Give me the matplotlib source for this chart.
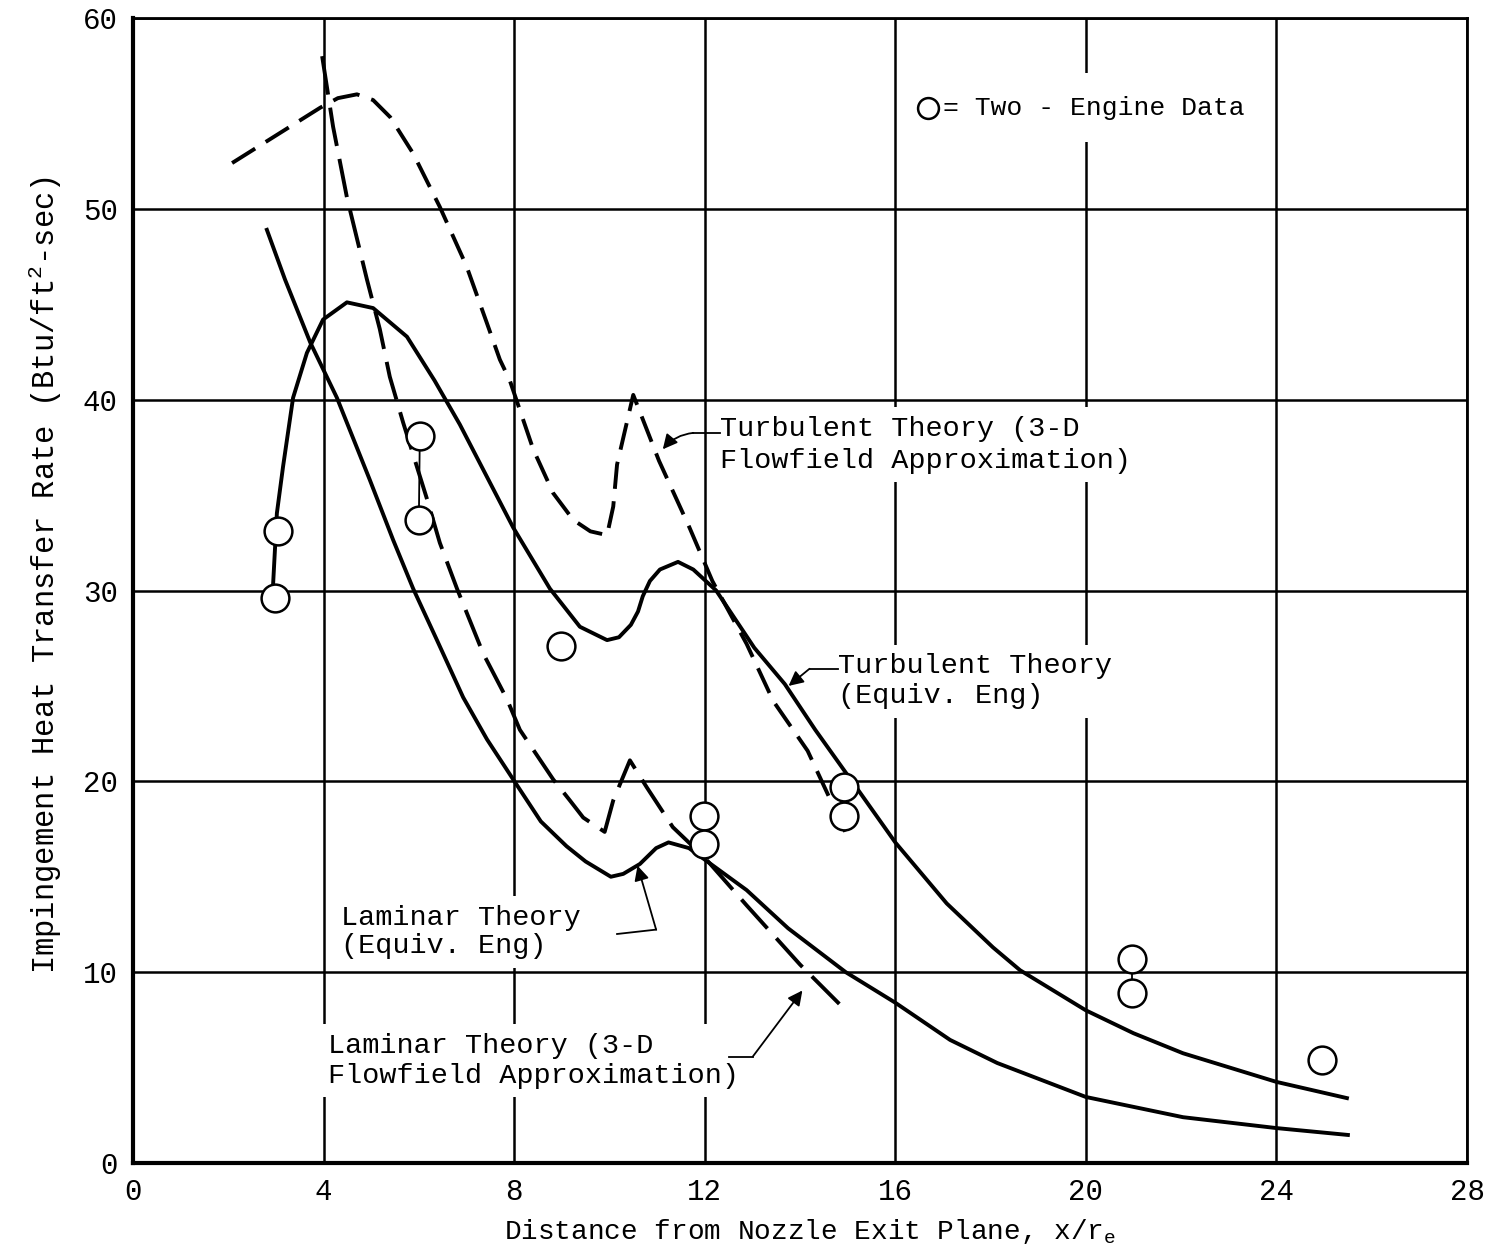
import matplotlib.pyplot as plt

plt.rcParams['font.family'] = ['Liberation Mono', 'DejaVu Sans Mono']
plt.rcParams['mathtext.fontset'] = 'custom'
plt.rcParams['mathtext.rm'] = 'Liberation Mono'
plt.rcParams['mathtext.it'] = 'Liberation Mono'

# Turbulent theory, 3-D flowfield approximation (dashed)
turb_3d_x = [2.08, 3.93, 4.3, 4.7, 5.04, 5.4, 5.88, 6.44, 7.0, 7.43, 7.7, 7.91, 8.4, 8.82,
             9.24, 9.6, 9.95, 10.08, 10.16, 10.5, 11.04, 11.68, 12.16, 12.88, 13.44, 14.16, 14.96]
turb_3d_y = [52.4, 55.3, 55.8, 56.0, 55.7, 54.8, 52.9, 50.1, 47.0, 44.0, 42.1, 41.0, 37.4, 35.1,
             33.7, 33.1, 32.9, 34.4, 36.6, 40.25, 36.8, 33.3, 30.5, 27.2, 24.2, 21.6, 17.3]

# Laminar theory, 3-D flowfield approximation (dashed)
lam_3d_x = [3.97, 4.2, 4.49, 4.91, 5.18, 5.39, 5.67, 6.17, 6.44, 6.8, 7.35, 7.85, 8.12, 8.82,
            9.17, 9.45, 9.9, 10.08, 10.43, 10.78, 11.33, 12.0, 12.88, 14.0, 14.96]
lam_3d_y = [58.0, 54.3, 50.6, 46.3, 43.7, 41.2, 38.8, 34.8, 32.5, 30.1, 26.7, 24.3, 22.7, 20.1,
            19.0, 18.1, 17.35, 19.0, 21.1, 19.7, 17.6, 16.0, 13.5, 10.4, 8.0]

# Turbulent theory, equivalent engine (solid)
turb_eq_x = [2.94, 3.02, 3.15, 3.36, 3.65, 3.99, 4.49, 5.04, 5.75, 6.33, 6.86, 7.98, 8.75,
             9.38, 9.95, 10.2, 10.45, 10.6, 10.7, 10.85, 11.06, 11.44, 11.76, 12.24, 13.04,
             13.68, 14.32, 15.12, 16.0, 17.08, 18.05, 18.62, 20.0, 21.0, 22.04, 24.0, 25.48]
turb_eq_y = [30.3, 34.05, 36.5, 40.1, 42.45, 44.2, 45.1, 44.8, 43.3, 41.0, 38.7, 33.3, 30.1,
             28.1, 27.4, 27.55, 28.2, 28.9, 29.7, 30.5, 31.1, 31.5, 31.1, 30.0, 27.0,
             25.1, 22.7, 19.9, 16.8, 13.6, 11.3, 10.1, 8.0, 6.8, 5.75, 4.25, 3.4]

# Laminar theory, equivalent engine (solid)
lam_eq_x = [2.81, 3.19, 3.72, 4.28, 4.97, 5.46, 5.88, 6.38, 6.93, 7.43, 7.98, 8.56, 9.1,
            9.5, 10.03, 10.29, 10.64, 10.98, 11.24, 11.67, 12.0, 12.88, 13.75, 14.96, 16.0,
            17.15, 18.14, 20.0, 22.04, 24.0, 25.5]
lam_eq_y = [48.9, 46.3, 43.0, 40.1, 35.8, 32.65, 30.1, 27.4, 24.4, 22.2, 20.1, 17.9, 16.6,
            15.8, 15.0, 15.15, 15.67, 16.5, 16.8, 16.5, 15.9, 14.3, 12.3, 10.0, 8.4,
            6.45, 5.24, 3.46, 2.4, 1.83, 1.47]

# two-engine test data
data_x = [3.04, 2.98, 6.02, 6.0, 8.98, 11.99, 11.99, 14.92, 14.92, 20.97, 20.97, 24.96]
data_y = [33.1, 29.6, 38.1, 33.7, 27.1, 18.2, 16.7, 19.7, 18.2, 10.7, 8.9, 5.4]

xticks = [0, 4, 8, 12, 16, 20, 24, 28]
yticks = [0, 10, 20, 30, 40, 50, 60]

fig = plt.figure(figsize=(14.87, 12.56), dpi=100)
ax = fig.add_axes([133 / 1487, 1 - 1163 / 1256, 1334 / 1487, 1145 / 1256])
ax.set_xlim(0, 28)
ax.set_ylim(0, 60)
ax.set_xticks(xticks)
ax.set_yticks(yticks)
ax.grid(True, color='black', lw=1.8)
ax.set_axisbelow(True)
ax.tick_params(length=0, labelsize=21, pad=11)
for s in ['left', 'bottom']:
    ax.spines[s].set_linewidth(3)
for s in ['top', 'right']:
    ax.spines[s].set_linewidth(2)

lw = 2.8
line_kw = dict(color='black', lw=lw, zorder=3, solid_joinstyle='round', dash_joinstyle='round')
ax.plot(turb_3d_x, turb_3d_y, dashes=(7, 3.2), **line_kw)
ax.plot(lam_3d_x, lam_3d_y, dashes=(10, 3.4), **line_kw)
ax.plot(turb_eq_x, turb_eq_y, **line_kw)
ax.plot(lam_eq_x, lam_eq_y, **line_kw)

ax.plot([data_x[2], data_x[3]], [data_y[2], data_y[3]], color='black', lw=1.3, zorder=3)
ax.plot([data_x[9], data_x[10]], [data_y[9], data_y[10]], color='black', lw=1.3, zorder=3)
ax.plot(data_x, data_y, 'o', ms=20, mfc='white', mec='black', mew=1.8, zorder=4)

box = dict(fc='white', ec='none', boxstyle='square,pad=0.3')
fs = 20.5
ax.text(12.32, 37.65, 'Turbulent Theory (3-D\nFlowfield Approximation)', fontsize=fs,
        ha='left', va='center', linespacing=1.3, bbox=box, zorder=2)
ax.text(14.8, 25.25, 'Turbulent Theory\n(Equiv. Eng)', fontsize=fs,
        ha='left', va='center', linespacing=1.2, bbox=box, zorder=2)
ax.text(4.37, 12.1, 'Laminar Theory\n(Equiv. Eng)', fontsize=fs,
        ha='left', va='center', linespacing=1.12, bbox=box, zorder=2)
ax.text(4.1, 5.35, 'Laminar Theory (3-D\nFlowfield Approximation)', fontsize=fs,
        ha='left', va='center', linespacing=1.2, bbox=box, zorder=2)

# legend
ax.plot([16.69], [55.3], 'o', ms=15, mfc='white', mec='black', mew=1.8, zorder=4)
ax.text(17.0, 55.3, '= Two - Engine Data', fontsize=19, ha='left', va='center',
        bbox=dict(fc='white', ec='none', boxstyle='square,pad=0.85'), zorder=2)

# leader lines with arrowheads
arrow = dict(arrowstyle='-|>', color='black', lw=1.3, mutation_scale=22, shrinkA=0, shrinkB=0)
ax.plot([12.32, 11.76], [38.26, 38.26], color='black', lw=1.3, zorder=3)
ax.annotate('', xy=(11.12, 37.4), xytext=(11.76, 38.26),
            arrowprops=dict(arrow, connectionstyle='arc3,rad=0.2'), zorder=3)
ax.plot([14.8, 14.2], [25.9, 25.9], color='black', lw=1.3, zorder=3)
ax.annotate('', xy=(13.76, 25.0), xytext=(14.2, 25.9), arrowprops=arrow, zorder=3)
ax.plot([10.16, 10.98], [12.0, 12.23], color='black', lw=1.3, zorder=3)
ax.annotate('', xy=(10.59, 15.58), xytext=(10.98, 12.23), arrowprops=arrow, zorder=3)
ax.plot([12.5, 13.01], [5.58, 5.58], color='black', lw=1.3, zorder=3)
ax.annotate('', xy=(14.05, 9.04), xytext=(13.01, 5.58), arrowprops=arrow, zorder=3)

fig.text(45 / 1487, 1 - 575 / 1256,
         r'Impingement Heat Transfer Rate (Btu/ft$^{\mathregular{2}}$-sec)',
         rotation=90, ha='center', va='center', fontsize=22)
fig.text(810 / 1487, 1 - 1232 / 1256,
         r'Distance from Nozzle Exit Plane, x/r$_{\mathregular{e}}$',
         ha='center', va='center', fontsize=20)

fig.savefig('out.png', dpi=100)
